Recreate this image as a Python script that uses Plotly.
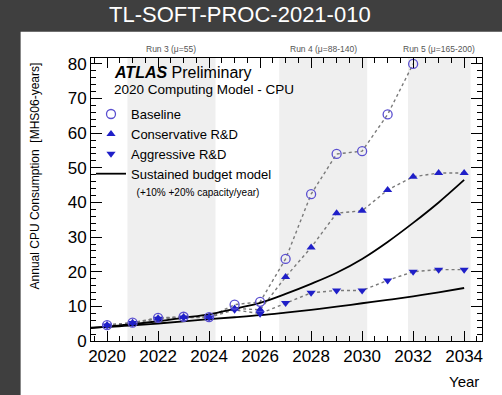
import plotly.graph_objects as go

# ---- data -------------------------------------------------------------
years = [2020, 2021, 2022, 2023, 2024, 2025, 2026, 2027, 2028, 2029, 2030,
         2031, 2032, 2033, 2034]

baseline = [4.6, 5.3, 6.7, 7.0, 6.9, 10.5, 11.3, 23.7, 42.4, 54.0, 54.8,
            65.4, 80.0, None, None]
conservative = [4.6, 5.3, 6.6, 6.9, 6.9, 9.4, 9.0, 18.5, 27.0, 36.9, 37.6,
                43.6, 47.4, 48.5, 48.5]
aggressive = [4.5, 5.2, 6.4, 6.8, 6.8, 9.0, 7.9, 11.0, 13.9, 14.6, 14.6,
              17.5, 20.0, 20.6, 20.6]

# sustained budget model curves (+10% and +20% capacity per year)
budget_years = [2019, 2020, 2021, 2022, 2023, 2024, 2025, 2026, 2027, 2028,
                2029, 2030, 2031, 2032, 2033, 2034]
budget_10 = [3.7, 4.05, 4.55, 5.05, 5.65, 6.3, 6.85, 7.45, 8.2, 9.0, 9.9,
             10.9, 11.85, 12.9, 14.05, 15.3]
budget_20 = [3.5, 4.15, 4.85, 5.7, 6.7, 7.7, 9.3, 11.0, 13.6, 16.5, 19.7,
             23.7, 28.6, 34.1, 40.0, 46.5]

# LHC run periods (shaded bands) and their labels
run_labels = ["Run 3 (\u03bc=55)", "Run 4 (\u03bc=88-140)", "Run 5 (\u03bc=165-200)"]
run_start = [2020.8, 2026.75, 2031.8]
run_end = [2024.25, 2030.2, 2034.25]

x_tick_vals = [2020, 2022, 2024, 2026, 2028, 2030, 2032, 2034]
y_tick_vals = [0, 10, 20, 30, 40, 50, 60, 70, 80]

# ---- style ------------------------------------------------------------
FONT = "Liberation Sans, Arial, Helvetica, sans-serif"
CIRCLE_COL = "#5a4fd0"
TRI_COL = "#1f1fc8"
DOT_COL = "#7a7a7a"

fig = go.Figure()

# dotted connectors between the model points
for vals in (baseline, conservative, aggressive):
    fig.add_trace(go.Scatter(
        x=years, y=vals, mode="lines", connectgaps=False,
        line=dict(color=DOT_COL, width=1.4, dash="dot"),
        showlegend=False, hoverinfo="skip"))

# budget model curves
fig.add_trace(go.Scatter(
    x=budget_years, y=budget_20, mode="lines", line_shape="spline",
    line=dict(color="black", width=1.8),
    name="Sustained budget model<br><span style='font-size:10px'>  (+10% +20% capacity/year)</span>",
    legendgroup="budget", legendrank=4))
fig.add_trace(go.Scatter(
    x=budget_years, y=budget_10, mode="lines", line_shape="spline",
    line=dict(color="black", width=1.8),
    legendgroup="budget", showlegend=False))

# model points
fig.add_trace(go.Scatter(
    x=years, y=aggressive, mode="markers", name="Aggressive R&D",
    marker=dict(symbol="triangle-down", size=8, color=TRI_COL),
    legendrank=3))
fig.add_trace(go.Scatter(
    x=years, y=conservative, mode="markers", name="Conservative R&D",
    marker=dict(symbol="triangle-up", size=8, color=TRI_COL),
    legendrank=2))
fig.add_trace(go.Scatter(
    x=years, y=baseline, mode="markers", name="Baseline",
    marker=dict(symbol="circle-open", size=9, color=CIRCLE_COL,
                line=dict(width=1.3, color=CIRCLE_COL)),
    legendrank=1))

# white panel behind the chart, then the run shading
shapes = [dict(type="rect", xref="paper", yref="paper",
               x0=-0.18, x1=1.06, y0=-0.2, y1=1.093,
               fillcolor="white", line=dict(width=0), layer="below")]
for s, e in zip(run_start, run_end):
    shapes.append(dict(type="rect", xref="x", yref="paper", x0=s, x1=e,
                       y0=0, y1=1, fillcolor="#efefef",
                       line=dict(width=0), layer="below"))

annotations = []
for lab, s, e in zip(run_labels, run_start, run_end):
    annotations.append(dict(text=lab, x=(s + e) / 2, xref="x",
                            y=1.033, yref="paper", showarrow=False,
                            font=dict(size=8.5, color="#555555", family=FONT),
                            xanchor="center", yanchor="middle"))

annotations += [
    dict(text="<b><i>ATLAS</i></b> Preliminary", x=0.054, y=0.947,
         xref="paper", yref="paper", showarrow=False, xanchor="left",
         yanchor="middle", font=dict(size=16, color="black", family=FONT)),
    dict(text="2020 Computing Model - CPU", x=0.054, y=0.887,
         xref="paper", yref="paper", showarrow=False, xanchor="left",
         yanchor="middle", font=dict(size=13.5, color="black", family=FONT)),
    dict(text="Annual CPU Consumption  [MHS06-years]", x=-0.143, y=0.99,
         xref="paper", yref="paper", showarrow=False, textangle=-90,
         xanchor="center", yanchor="top",
         font=dict(size=12, color="black", family=FONT)),
    dict(text="Year", x=0.997, y=-0.142, xref="paper", yref="paper",
         showarrow=False, xanchor="right", yanchor="middle",
         font=dict(size=15, color="black", family=FONT)),
    dict(text="TL-SOFT-PROC-2021-010", x=0.38, y=1.152, xref="paper",
         yref="paper", showarrow=False, xanchor="center", yanchor="middle",
         font=dict(size=22, color="white", family=FONT)),
]

axis_common = dict(showline=True, linecolor="black", linewidth=1,
                   mirror="ticks", ticks="inside", tickcolor="black",
                   showgrid=False, zeroline=False,
                   tickfont=dict(size=17, color="black", family=FONT))

fig.update_xaxes(range=[2019.37, 2034.7], tickvals=x_tick_vals,
                 ticklen=10, tickwidth=1,
                 minor=dict(dtick=0.5, tick0=2020, ticklen=5,
                            tickcolor="black", ticks="inside"),
                 **axis_common)
fig.update_yaxes(range=[0, 81.7], tickvals=y_tick_vals,
                 ticklen=11, tickwidth=1,
                 minor=dict(dtick=2, tick0=0, ticklen=5,
                            tickcolor="black", ticks="inside"),
                 **axis_common)

fig.update_layout(
    width=502, height=395,
    margin=dict(l=91, r=20, t=58, b=54),
    paper_bgcolor="#3f3f3f", plot_bgcolor="white",
    font=dict(family=FONT, color="black"),
    shapes=shapes, annotations=annotations,
    legend=dict(x=0.0, y=0.855, xanchor="left", yanchor="top",
                bgcolor="rgba(0,0,0,0)", itemwidth=30, valign="top",
                font=dict(size=13, color="black", family=FONT),
                tracegroupgap=0),
    showlegend=True,
)

fig.write_html("out.html")
